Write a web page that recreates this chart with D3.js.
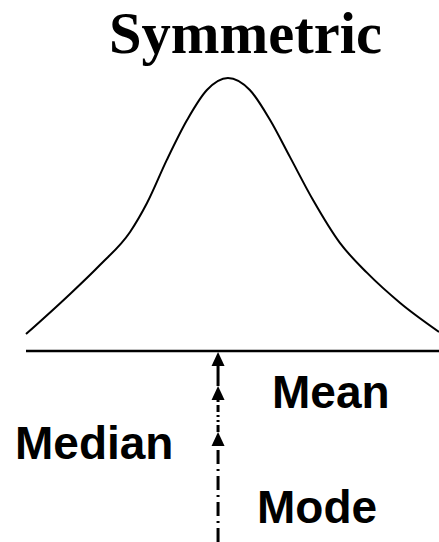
<!DOCTYPE html>
<html>
<head>
<meta charset="utf-8">
<script src="https://cdn.jsdelivr.net/npm/d3@7"></script>
<style>
  html, body { margin: 0; padding: 0; background: #fff; }
  svg { display: block; }
</style>
</head>
<body>
<svg id="chart" width="439" height="542"></svg>
<script>
// ---- data ----
const title = "Symmetric";
const curveX = [0, 9.9, 17.9, 25.2, 29.3, 34.1, 39.0, 43.8, 48.9, 54.2, 59.1, 63.9, 69.5, 76.0, 82.6, 90.6, 100];
const curveY = [0.062, 0.198, 0.315, 0.436, 0.542, 0.700, 0.846, 0.956, 1.0, 0.956, 0.846, 0.711, 0.553, 0.396, 0.286, 0.176, 0.070];
const centerValue = 46.5;              // mean = median = mode position
const measureLabels = ["Mean", "Median", "Mode"];

// ---- layout ----
const svg = d3.select("#chart");
const x = d3.scaleLinear().domain([0, 100]).range([26, 439]);
const y = d3.scaleLinear().domain([0, 1]).range([351, 78]);

// title
svg.append("text")
  .attr("x", 109).attr("y", 53)
  .attr("font-family", "'Liberation Serif', 'Times New Roman', serif")
  .attr("font-weight", "bold")
  .attr("font-size", 58.5)
  .attr("fill", "#000")
  .text(title);

// curve
const pts = curveX.map((d, i) => [d, curveY[i]]);
svg.append("path")
  .datum(pts)
  .attr("fill", "none")
  .attr("stroke", "#000")
  .attr("stroke-width", 2)
  .attr("d", d3.line().x(d => x(d[0])).y(d => y(d[1])).curve(d3.curveMonotoneX));

// baseline axis
svg.append("line")
  .attr("x1", x(0)).attr("x2", x(100))
  .attr("y1", y(0)).attr("y2", y(0))
  .attr("stroke", "#000").attr("stroke-width", 2.5);

// arrows
const ax = x(centerValue);
const headH = 14, headW = 13, lw = 3;
const arrows = [
  { tip: 352, from: 386, dash: null },            // Mean (solid)
  { tip: 386, from: 432, dash: "7,3,2,3,2,3" },   // Median (dash-dot-dot)
  { tip: 432, from: 542, dash: "14,5,2,5" }       // Mode (dash-dot)
];
arrows.forEach(a => {
  svg.append("line")
    .attr("x1", ax).attr("x2", ax)
    .attr("y1", a.from).attr("y2", a.tip + headH - 1)
    .attr("stroke", "#000").attr("stroke-width", lw)
    .attr("stroke-dasharray", a.dash);
  svg.append("path")
    .attr("d", `M${ax},${a.tip} L${ax - headW / 2},${a.tip + headH} L${ax + headW / 2},${a.tip + headH} Z`)
    .attr("fill", "#000");
});

// labels
const labelPos = [
  { x: 272, y: 408 },
  { x: 15, y: 459 },
  { x: 257, y: 523 }
];
measureLabels.forEach((t, i) => {
  svg.append("text")
    .attr("x", labelPos[i].x).attr("y", labelPos[i].y)
    .attr("font-family", "'Liberation Sans', Arial, sans-serif")
    .attr("font-weight", "bold")
    .attr("font-size", 46)
    .attr("fill", "#000")
    .text(t);
});
</script>
</body>
</html>
